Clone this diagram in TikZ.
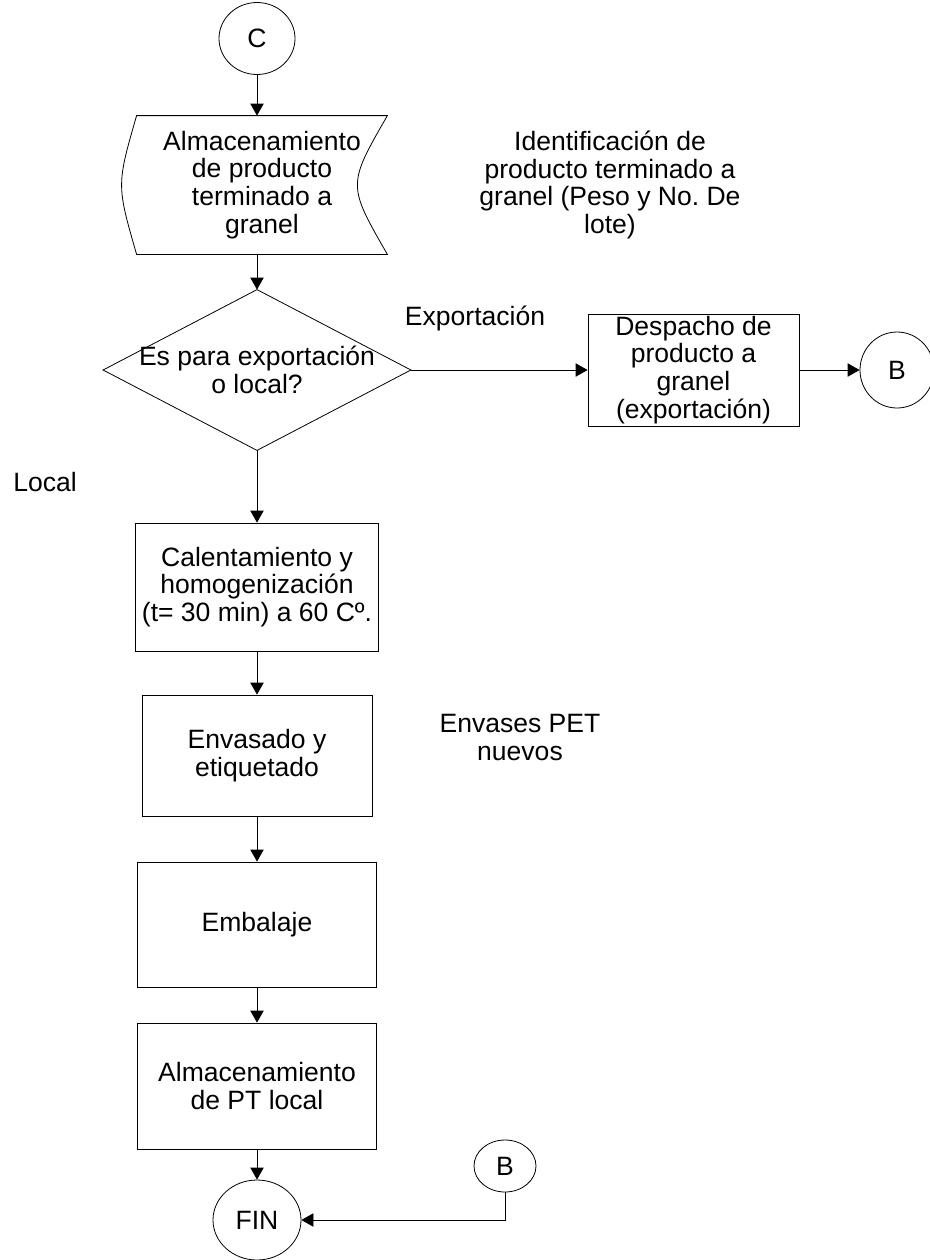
\documentclass[tikz,border=0pt]{standalone}
\usepackage{fontspec}
\setmainfont{Liberation Sans}
\usetikzlibrary{shapes.geometric, arrows.meta}
\tikzset{
    objRectangle/.style={rectangle, draw=black, align=center, inner sep=1pt},
    objStored/.style={rectangle, align=center, inner sep=1pt},
    objDecision/.style={rectangle, align=center, inner sep=0pt},
    objConnector/.style={ellipse, draw=black, inner sep=0pt},
    objLabel/.style={align=center, inner sep=0pt},
    arrow/.style={->, >={Triangle[width=10pt,length=9pt]}}
}
\begin{document}
\begin{tikzpicture}[x=0.75pt, y=-0.75pt, line width=0.6pt, font=\fontsize{19.9}{20.8}\selectfont]
    \useasboundingbox (0,0) rectangle (929,1260);

    \node (001) [objConnector, minimum width=57pt, minimum height=54pt] at (257,38.5) {C};
    \node (002) [objStored, minimum width=187.5pt, minimum height=103.5pt] at (262,185) {Almacenamiento\\de producto\\terminado a\\granel};
    \draw (002.north west) -- (002.north east) .. controls ([xshift=-30pt]002.east) .. (002.south east) -- (002.south west) .. controls ([xshift=-15pt]002.west) .. cycle;
    \node (003) [objDecision, minimum width=230.25pt, minimum height=120pt] at (257,370) {Es para exportación\\o local?};
    \draw (003.north) -- (003.east) -- (003.south) -- (003.west) -- cycle;
    \node (004) [objRectangle, minimum width=158.25pt, minimum height=84pt] at (693.5,370) {Despacho de\\producto a\\granel\\(exportación)};
    \node (005) [objConnector, minimum width=55.5pt, minimum height=57pt] at (897,370) {B};
    \node (006) [objRectangle, minimum width=182.25pt, minimum height=96pt] at (257,587) {Calentamiento y\\homogenización\\(t= 30 min) a 60 Cº.};
    \node (007) [objRectangle, minimum width=172.5pt, minimum height=90.75pt] at (257,755.5) {Envasado y\\etiquetado};
    \node (008) [objRectangle, minimum width=179.25pt, minimum height=93.75pt] at (257,924.5) {Embalaje};
    \node (009) [objRectangle, minimum width=179.25pt, minimum height=94.5pt] at (257,1086) {Almacenamiento\\de PT local};
    \node (010) [objConnector, minimum width=66pt, minimum height=60pt] at (257,1220) {FIN};
    \node (011) [objConnector, minimum width=46.5pt, minimum height=39pt] at (505,1166) {B};

    \node (012) [objLabel] at (610,185) {Identificación de\\producto terminado a\\granel (Peso y No.\ De\\lote)};
    \node (013) [objLabel] at (475,318) {Exportación};
    \node (014) [objLabel] at (45,482) {Local};
    \node (015) [objLabel] at (520,737.5) {Envases PET\\nuevos};

    \draw [arrow] (001) -- (001 |- 002.north);
    \draw [arrow] (002.south -| 003) -- (003);
    \draw [arrow] (003) -- (004);
    \draw [arrow] (004) -- (005);
    \draw [arrow] (003) -- (006);
    \draw [arrow] (006) -- (007);
    \draw [arrow] (007) -- (008);
    \draw [arrow] (008) -- (009);
    \draw [arrow] (009) -- (010);
    \draw [arrow] (011) |- (010);

\end{tikzpicture}
\end{document}
